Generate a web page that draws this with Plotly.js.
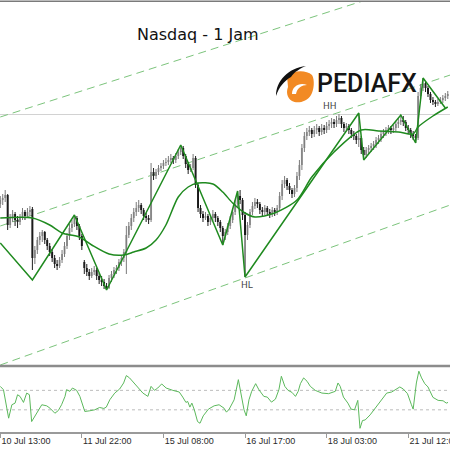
<!DOCTYPE html>
<html><head><meta charset="utf-8">
<script src="https://cdn.plot.ly/plotly-3.0.1.min.js"></script>
<style>html,body{margin:0;padding:0;background:#fff}#chart{width:450px;height:450px}</style>
</head><body><div id="chart"></div>
<script>
// Hourly bars, index 0 = 10 Jul 13:00
const opens = [
7896,7900,7902,7905,7875,7882,7886,7880,7878,7882,
7888,7884,7888,7891,7842,7850,7860,7864,7868,7860,
7854,7848,7842,7836,7834,7840,7846,7854,7864,7872,
7876,7882,7874,7864,7838,7832,7828,7824,7828,7830,
7824,7820,7818,7814,7812,7822,7826,7830,7832,7838,
7842,7848,7865,7874,7882,7888,7892,7895,7890,7884,
7882,7880,7928,7924,7928,7932,7934,7937,7938,7940,
7942,7940,7944,7948,7952,7944,7936,7930,7932,7942,
7915,7892,7886,7882,7884,7878,7882,7886,7882,7878,
7872,7864,7868,7874,7880,7888,7896,7904,7900,7885,
7865,7875,7888,7894,7898,7896,7890,7888,7892,7888,
7886,7890,7888,7892,7904,7916,7920,7914,7910,7906,
7912,7924,7935,7952,7964,7968,7970,7966,7970,7972,
7968,7972,7970,7974,7976,7978,7976,7980,7982,7976,
7972,7974,7970,7966,7964,7960,7962,7950,7945,7950,
7952,7954,7956,7960,7962,7966,7968,7970,7972,7970,
7972,7976,7978,7980,7978,7972,7970,7966,7964,7962,
8004,8012,8016,8012,8006,8000,7998,7996,7998,8000,
8002,8004];
const highs = [
7904,7906,7910,7906,7886,7890,7888,7884,7886,7892,
7890,7892,7894,7893,7854,7863,7868,7870,7869,7862,
7857,7851,7845,7840,7843,7850,7858,7867,7876,7880,
7885,7884,7876,7866,7840,7836,7831,7832,7834,7832,
7827,7824,7821,7817,7825,7829,7833,7835,7841,7845,
7851,7874,7878,7886,7892,7898,7900,7897,7892,7887,
7885,7937,7932,7931,7935,7937,7940,7942,7944,7946,
7944,7947,7951,7955,7954,7946,7938,7936,7946,7944,
7917,7895,7889,7888,7886,7885,7890,7888,7884,7880,
7874,7871,7877,7884,7892,7900,7909,7910,7902,7888,
7878,7891,7898,7902,7901,7898,7893,7895,7894,7891,
7893,7892,7895,7908,7920,7924,7922,7917,7912,7915,
7928,7940,7956,7968,7972,7974,7972,7974,7976,7974,
7976,7975,7978,7980,7982,7981,7984,7986,7984,7978,
7977,7976,7972,7969,7966,7987,7964,7953,7953,7955,
7957,7959,7963,7965,7969,7971,7973,7975,7974,7975,
7979,7982,7985,7984,7980,7975,7972,7969,7966,8008,
8016,8022,8019,8014,8008,8003,8000,8001,8003,8005,
8007,8009];
const lows = [
7892,7895,7898,7870,7872,7878,7874,7872,7875,7880,
7880,7882,7884,7830,7836,7846,7855,7858,7856,7850,
7844,7838,7832,7830,7832,7837,7843,7851,7860,7868,
7873,7870,7860,7850,7826,7824,7820,7822,7825,7820,
7816,7814,7811,7810,7811,7818,7822,7826,7829,7834,
7838,7826,7862,7870,7878,7884,7888,7886,7880,7878,
7876,7878,7920,7921,7925,7929,7931,7934,7935,7937,
7936,7937,7941,7945,7941,7932,7926,7928,7930,7912,
7888,7882,7878,7880,7874,7875,7879,7878,7874,7868,
7855,7860,7865,7871,7877,7885,7893,7896,7880,7823,
7860,7872,7885,7891,7892,7886,7884,7885,7884,7882,
7883,7884,7885,7889,7900,7912,7910,7906,7902,7903,
7908,7920,7930,7948,7960,7964,7962,7963,7966,7964,
7965,7966,7967,7970,7972,7972,7973,7976,7972,7968,
7969,7966,7962,7960,7956,7953,7946,7940,7942,7946,
7948,7950,7952,7956,7958,7962,7964,7966,7966,7967,
7969,7972,7975,7974,7969,7966,7962,7960,7957,7960,
8001,8009,8008,8003,7997,7995,7993,7994,7996,7997,
7999,8001];
const closes = [
7900,7902,7905,7875,7882,7886,7880,7878,7882,7888,
7884,7888,7890,7842,7850,7860,7864,7868,7860,7854,
7848,7842,7836,7834,7840,7846,7854,7864,7872,7876,
7882,7874,7864,7854,7832,7828,7824,7828,7830,7824,
7820,7818,7814,7812,7822,7826,7830,7832,7838,7842,
7848,7865,7874,7882,7888,7892,7895,7890,7884,7882,
7880,7928,7924,7928,7932,7934,7937,7938,7940,7942,
7940,7944,7948,7952,7944,7936,7930,7932,7942,7915,
7892,7886,7882,7884,7878,7882,7886,7882,7878,7872,
7864,7868,7874,7880,7888,7896,7904,7900,7885,7865,
7875,7888,7894,7898,7896,7890,7888,7892,7888,7886,
7890,7888,7892,7904,7916,7920,7914,7910,7906,7912,
7924,7935,7952,7964,7968,7970,7966,7970,7972,7968,
7972,7970,7974,7976,7978,7976,7980,7982,7976,7972,
7974,7970,7966,7964,7960,7962,7950,7945,7950,7952,
7954,7956,7960,7962,7966,7968,7970,7972,7970,7972,
7976,7978,7980,7978,7972,7970,7966,7964,7962,8004,
8012,8016,8012,8006,8000,7998,7996,7998,8000,8002,
8004,8006];

// Moving average (read at sample bars)
const maBars = [0,13,20,25,32,37,44,50,54,59,63,67,72,76,80,86,90,94,99,103,111,120,126,135,146,153,161,167,169,175,181];
const maVals = [7882,7882,7875,7867,7863,7855,7846,7845,7848,7852,7860,7875,7903,7913,7917,7916,7908,7897,7887,7883,7887,7900,7923,7948,7970,7969,7968,7966,7973,7984,7993];

// ZigZag swing points
const zzBars = [0,13,30,43,73,90,96,99,145,147,162,168,171,180];
const zzVals = [7857,7820,7885,7810,7955,7855,7909,7823,7987,7940,7985,7957,8022,7992];

// Channel lines: [startBar, endBar], [startPrice, endPrice]
const chanBars = [0, 182];
const chanUpper = [7983, 8127];
const chanMiddle = [7874, 8025];
const chanLower = [7735, 7895];
const levelLine = [7985.5];

// Oscillator (lower panel)
const oscBars = [0,1.3,3.4,4.7,6,7,8,9.4,10.7,11.8,
12.7,14.8,16.8,18.8,20.1,22.1,23.5,24.8,26.2,26.8,
28.2,29.2,30.9,32.2,34.2,36.2,38.2,40.2,41.9,42.9,
44.3,46.3,48.3,49.9,51,52.3,54.3,57.7,59.7,61,
62.4,63.7,65.3,67.1,69.8,72.4,73.8,75.1,75.8,76.7,
77.5,78.5,79.8,80.8,82.1,84.2,86.5,88.5,90.5,91.5,
92.6,94.6,96.3,97.3,98.6,99.5,100.6,101.7,103.3,104.6,
106.6,108,109.7,111.3,112.7,113.7,115.1,116.4,118,119.4,
120.5,121.4,122.7,124.1,125.4,127.4,130.1,132.8,135.5,136.6,
137.5,138.8,140.6,141.9,143.3,144.6,145.5,146.5,147.6,149.6,
152.2,154.3,156.3,158.3,159.6,161.6,163,164.7,166.3,167,
168.3,169.3,170.4,171.7,173,175,177.1,179.1,180.4,181.1];
const oscVals = [141,107,-186,-48,-31,55,38,-24,72,55,
-221,-135,-48,-59,-83,-135,-107,-48,38,107,
90,124,100,38,-117,-110,-100,-76,-86,-72,
3,72,114,176,252,228,169,72,38,141,
100,124,166,124,100,83,31,-24,-14,-72,
-31,-100,-221,-238,-162,-93,-59,-48,-83,-124,
-93,3,210,72,-100,-162,3,90,169,107,
38,31,-21,10,107,245,141,100,79,38,
90,169,228,193,141,100,72,66,90,176,
141,31,-31,-93,-100,-3,-290,-210,-204,-152,
-66,10,72,83,107,135,114,66,-48,-93,
176,297,228,169,135,28,-3,-7,-31,-24];
const oscLevels = [100, -100];

const tickBars = [0,33,66,99,132,165];
const tickLabels = ['10 Jul 13:00','11 Jul 22:00','15 Jul 08:00','16 Jul 17:00','18 Jul 03:00','21 Jul 12:00'];

const swingLabels = ['HH','HL'];
const swingBars = [133.3, 99.8];
const swingVals = [7994, 7815];

// ---- build ----
const idx = opens.map((_, i) => i);
const isUp = opens.map((o, i) => closes[i] >= o);
const bodyBase = opens.map((o, i) => Math.min(o, closes[i]));
const bodyLen = opens.map((o, i) => Math.max(Math.abs(closes[i] - o), 0.9));
const bodyColor = isUp.map(u => u ? '#9a9a9a' : '#121212');
function wick(up) {
  const xs = [], ys = [];
  idx.forEach(i => { if (isUp[i] === up) { xs.push(i, i, null); ys.push(lows[i], highs[i], null); } });
  return {xs, ys};
}
const wu = wick(true), wd = wick(false);

const traces = [
  {type:'scatter', mode:'lines', x:wu.xs, y:wu.ys, line:{color:'#7a7a7a', width:1}, hoverinfo:'skip', xaxis:'x', yaxis:'y'},
  {type:'scatter', mode:'lines', x:wd.xs, y:wd.ys, line:{color:'#1e1e1e', width:1}, hoverinfo:'skip', xaxis:'x', yaxis:'y'},
  {type:'bar', x:idx, y:bodyLen, base:bodyBase, width:0.78, marker:{color:bodyColor, line:{width:0}}, xaxis:'x', yaxis:'y', hoverinfo:'skip'},
  {type:'scatter', mode:'lines', x:maBars, y:maVals, line:{color:'#1f8a1f', width:1.5, shape:'spline', smoothing:0.8}, xaxis:'x', yaxis:'y'},
  {type:'scatter', mode:'lines', x:zzBars, y:zzVals, line:{color:'#1f8a1f', width:1.5}, xaxis:'x', yaxis:'y'},
  {type:'scatter', mode:'lines', x:oscBars, y:oscVals, line:{color:'#5cb85c', width:1}, xaxis:'x', yaxis:'y2'}
];

const shapes = [];
[chanUpper, chanMiddle, chanLower].forEach(c => shapes.push({type:'line', xref:'x', yref:'y', x0:chanBars[0], x1:chanBars[1], y0:c[0], y1:c[1], line:{color:'#7cc47c', width:1, dash:'8px,5px'}, layer:'below'}));
shapes.push({type:'line', xref:'paper', yref:'y', x0:0, x1:1, y0:levelLine[0], y1:levelLine[0], line:{color:'#d2d2d2', width:1}, layer:'below'});
oscLevels.forEach(v => shapes.push({type:'line', xref:'paper', yref:'y2', x0:0, x1:1, y0:v, y1:v, line:{color:'#bdbdbd', width:1, dash:'dot'}, layer:'below'}));
shapes.push({type:'line', xref:'paper', yref:'paper', x0:0, x1:1, y0:1-1.2/450, y1:1-1.2/450, line:{color:'#7a7a7a', width:1.6}});
shapes.push({type:'line', xref:'paper', yref:'paper', x0:0, x1:1, y0:1-366/450, y1:1-366/450, line:{color:'#8c8c8c', width:2.6}});

const annotations = [
  {xref:'paper', yref:'paper', x:198/450, y:1-34/450, text:'Nasdaq - 1 Jam', showarrow:false, xanchor:'center', yanchor:'middle', font:{family:'DejaVu Sans', size:16, color:'#111'}},
  {xref:'paper', yref:'paper', x:367/450, y:1-84/450, text:'PEDIAFX', showarrow:false, xanchor:'center', yanchor:'middle', font:{family:'Roboto', size:25, color:'#151515', weight:500}}
];
swingLabels.forEach((t, i) => annotations.push({xref:'x', yref:'y', x:swingBars[i], y:swingVals[i], text:t, showarrow:false, font:{family:'DejaVu Sans', size:9, color:'#444'}}));

const logoSvg = "<svg xmlns='http://www.w3.org/2000/svg' viewBox='0 0 42 42' width='42' height='42'>" +
  "<path d='M14 13 C21 7 33 7 39 12 C42 17 41 27 38 32 C34 39 24 41 19 38 C14 35 13 29 15 24 Z' fill='#f28a24'/>" +
  "<path d='M19 31 C19 23 27 19 34 22 C29 22 24 25 23 31 Z' fill='#ffffff'/>" +
  "<path d='M3 33 C3 18 15 5 33 3 C28 5 21 9 18 14 C11 18 6 24 3 33 Z' fill='#111111'/>" +
  "</svg>";
const images = [{source:'data:image/svg+xml;charset=utf-8,' + encodeURIComponent(logoSvg), xref:'paper', yref:'paper', x:273/450, y:1-63/450, sizex:42/450, sizey:42/450, xanchor:'left', yanchor:'top', sizing:'stretch', layer:'above'}];

const layout = {
  width:450, height:450, margin:{l:0, r:0, t:0, b:0},
  paper_bgcolor:'#ffffff', plot_bgcolor:'#ffffff', showlegend:false,
  xaxis:{domain:[0,1], range:[-0.1,181.9], anchor:'y2', tickmode:'array', tickvals:tickBars, ticktext:tickLabels,
    ticks:'outside', ticklen:4, tickcolor:'#9a9a9a', tickwidth:1, showline:true, linecolor:'#9a9a9a', linewidth:1.5,
    showgrid:false, zeroline:false, ticklabelposition:'outside right', ticklabeloverflow:'allow',
    tickfont:{family:'Liberation Sans, Arial, sans-serif', size:9, color:'#2a2a2a'}, fixedrange:true},
  yaxis:{domain:[1-366/450, 1-2/450], range:[7734,8098], visible:false, fixedrange:true},
  yaxis2:{domain:[1-432/450, 1-367.5/450], range:[-328,335], visible:false, fixedrange:true},
  shapes, annotations, images
};

Plotly.newPlot('chart', traces, layout, {displayModeBar:false, staticPlot:true});
</script>
</body></html>
